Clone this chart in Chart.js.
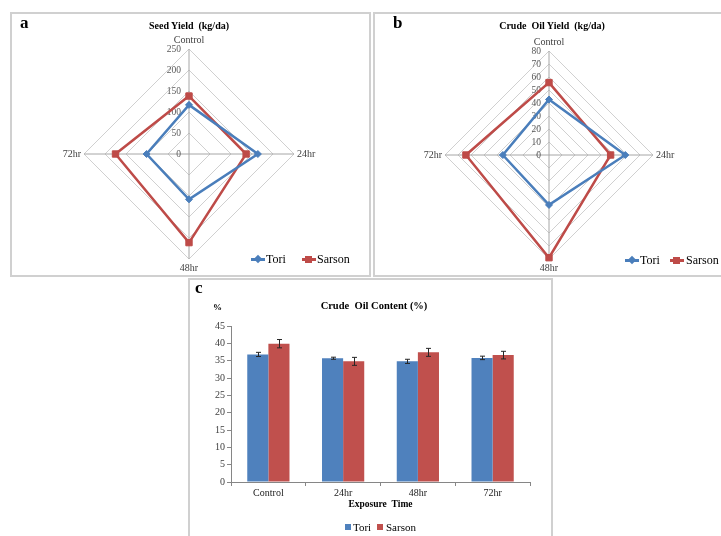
<!DOCTYPE html>
<html>
<head>
<meta charset="utf-8">
<title>Seed yield, crude oil yield and crude oil content</title>
<script src="https://cdn.jsdelivr.net/npm/chart.js@4.4.1/dist/chart.umd.min.js"></script>
<style>
    html, body { margin: 0; padding: 0; background: #fff; }
    body { position: relative; width: 721px; height: 536px; overflow: hidden; font-family: 'Liberation Serif', 'Times New Roman', serif; }
    .panel { position: absolute; border: 2px solid #d0d0d0; box-sizing: border-box; }
    canvas { position: absolute; }
    .txt { position: absolute; white-space: pre; color: #000; line-height: 12px; }
    .letter { position: absolute; font-weight: bold; font-size: 17px; line-height: 16px; }
    .title { font-weight: bold; font-size: 10px; transform: translateX(-50%); }
    .leg { position: absolute; height: 12px; line-height: 12px; font-size: 12px; color: #000; }
    .leg .line { position: absolute; top: 5px; height: 2.5px; width: 14px; }
    .leg .mark { position: absolute; }
    .leg span { position: absolute; top: 0; }
</style>
</head>
<body>
<div class="panel" style="left:10px; top:12px; width:361px; height:265px;"></div>
<div class="panel" style="left:373px; top:12px; width:352px; height:265px;"></div>
<div class="panel" style="left:188px; top:278px; width:365px; height:270px;"></div>

<canvas id="seedChart" width="360" height="264" style="left:10px; top:12px;"></canvas>
<canvas id="oilYieldChart" width="348" height="264" style="left:373px; top:12px;"></canvas>
<canvas id="oilContentChart" width="363" height="257" style="left:189px; top:279px;"></canvas>

<div class="letter" style="left:20px; top:15px;">a</div>
<div class="letter" style="left:393px; top:15px;">b</div>
<div class="letter" style="left:195px; top:280px;">c</div>

<div class="txt title" style="left:189px; top:20px;">Seed Yield  (kg/da)</div>
<div class="txt title" style="left:552px; top:20px;">Crude  Oil Yield  (kg/da)</div>
<div class="txt title" style="left:374px; top:300px; font-size:10.5px;">Crude  Oil Content (%)</div>
<div class="txt" style="left:213px; top:301px; font-size:9px; font-weight:bold;">%</div>

<!-- radar legends -->
<div class="leg" style="left:251px; top:253px;">
    <div class="line" style="left:0; background:#4a7ebb;"></div>
    <div class="mark" style="left:4px; top:3px; width:6px; height:6px; background:#4a7ebb; transform:rotate(45deg);"></div>
    <span style="left:15px;">Tori</span>
    <div class="line" style="left:51px; background:#be4b48;"></div>
    <div class="mark" style="left:54px; top:2.5px; width:7px; height:7px; background:#be4b48;"></div>
    <span style="left:66px;">Sarson</span>
</div>
<div class="leg" style="left:625px; top:254px;">
    <div class="line" style="left:0; background:#4a7ebb;"></div>
    <div class="mark" style="left:4px; top:3px; width:6px; height:6px; background:#4a7ebb; transform:rotate(45deg);"></div>
    <span style="left:15px;">Tori</span>
    <div class="line" style="left:45px; background:#be4b48;"></div>
    <div class="mark" style="left:48px; top:2.5px; width:7px; height:7px; background:#be4b48;"></div>
    <span style="left:61px;">Sarson</span>
</div>
<!-- bar legend -->
<div class="leg" style="left:345px; top:521px; font-size:11px;">
    <div class="mark" style="left:0; top:3px; width:6px; height:6px; background:#4f81bd;"></div>
    <span style="left:8px;">Tori</span>
    <div class="mark" style="left:32px; top:3px; width:6px; height:6px; background:#c0504d;"></div>
    <span style="left:41px;">Sarson</span>
</div>

<script>
// categories shared by all three panels
const timeLabels = ['Control', '24hr', '48hr', '72hr'];

// a - seed yield (kg/da)
const seedTori = [117, 164, 108, 101];
const seedSarson = [138, 136, 211, 175];
const seedTicks = [0, 50, 100, 150, 200, 250];

// b - crude oil yield (kg/da)
const oilYieldTori = [42.7, 58.7, 38.4, 35.5];
const oilYieldSarson = [55.7, 47.4, 79, 63.9];
const oilYieldTicks = [0, 10, 20, 30, 40, 50, 60, 70, 80];

// c - crude oil content (%) with error bars
const contentTori = [36.8, 35.7, 34.8, 35.8];
const contentSarson = [39.9, 34.8, 37.4, 36.6];
const contentToriErr = [0.6, 0.3, 0.6, 0.5];
const contentSarsonErr = [1.2, 1.15, 1.15, 1.1];
const contentTicks = [0, 5, 10, 15, 20, 25, 30, 35, 40, 45];

const serif = "'Liberation Serif', 'Times New Roman', serif";
const toriLine = '#4a7ebb';
const sarsonLine = '#be4b48';

// radial tick labels sit left of the vertical axis, under the lines
function radarTickPlugin(ticks) {
    return {
        id: 'radarTicks',
        beforeDatasetsDraw(chart) {
            const r = chart.scales.r;
            const ctx = chart.ctx;
            ctx.save();
            ctx.font = '9.5px ' + serif;
            ctx.fillStyle = '#595959';
            ctx.textAlign = 'right';
            ctx.textBaseline = 'middle';
            ticks.forEach(v => {
                ctx.fillText(String(v), r.xCenter - 8, r.yCenter - r.getDistanceFromCenterForValue(v));
            });
            ctx.restore();
        }
    };
}

function radarConfig(tori, sarson, ticks, pad) {
    return {
        type: 'radar',
        data: {
            labels: timeLabels,
            datasets: [
                {
                    label: 'Tori', data: tori,
                    borderColor: toriLine, backgroundColor: toriLine,
                    pointBackgroundColor: toriLine, pointBorderColor: toriLine,
                    pointStyle: 'rectRot', pointRadius: 3.5, pointBorderWidth: 1, borderWidth: 2.5, fill: false
                },
                {
                    label: 'Sarson', data: sarson,
                    borderColor: sarsonLine, backgroundColor: sarsonLine,
                    pointBackgroundColor: sarsonLine, pointBorderColor: sarsonLine,
                    pointStyle: 'rect', pointRadius: 4.5, pointBorderWidth: 1, borderWidth: 2.5, fill: false
                }
            ]
        },
        options: {
            responsive: false,
            animation: false,
            layout: { padding: pad },
            plugins: { legend: { display: false }, title: { display: false }, tooltip: { enabled: false } },
            scales: {
                r: {
                    min: ticks[0],
                    max: ticks[ticks.length - 1],
                    afterBuildTicks: s => { s.ticks = ticks.map(v => ({ value: v })); },
                    ticks: { display: false },
                    grid: { color: '#d0d0d0', lineWidth: 1 },
                    angleLines: { color: '#a6a6a6', lineWidth: 1 },
                    pointLabels: { font: { family: serif, size: 10 }, color: '#404040', padding: 3 }
                }
            }
        },
        plugins: [radarTickPlugin(ticks)]
    };
}

new Chart(document.getElementById('seedChart'),
    radarConfig(seedTori, seedSarson, seedTicks, { left: 29, right: 31, top: 22, bottom: 2 }));
new Chart(document.getElementById('oilYieldChart'),
    radarConfig(oilYieldTori, oilYieldSarson, oilYieldTicks, { left: 31, right: 27, top: 24, bottom: 2 }));

// error bars for panel c
const contentErrors = [contentToriErr, contentSarsonErr];
const errorBars = {
    id: 'errorBars',
    afterDatasetsDraw(chart) {
        const y = chart.scales.y;
        const ctx = chart.ctx;
        ctx.save();
        ctx.strokeStyle = '#262626';
        ctx.lineWidth = 1;
        chart.data.datasets.forEach((ds, i) => {
            chart.getDatasetMeta(i).data.forEach((bar, j) => {
                const hi = y.getPixelForValue(ds.data[j] + contentErrors[i][j]);
                const lo = y.getPixelForValue(ds.data[j] - contentErrors[i][j]);
                const x = Math.round(bar.x) + 0.5;
                ctx.beginPath();
                ctx.moveTo(x, hi); ctx.lineTo(x, lo);
                ctx.moveTo(x - 2.5, hi); ctx.lineTo(x + 2.5, hi);
                ctx.moveTo(x - 2.5, lo); ctx.lineTo(x + 2.5, lo);
                ctx.stroke();
            });
        });
        ctx.restore();
    }
};

new Chart(document.getElementById('oilContentChart'), {
    type: 'bar',
    data: {
        labels: timeLabels,
        datasets: [
            { label: 'Tori', data: contentTori, backgroundColor: '#4f81bd' },
            { label: 'Sarson', data: contentSarson, backgroundColor: '#c0504d' }
        ]
    },
    options: {
        responsive: false,
        animation: false,
        layout: { padding: { left: 0, top: 47, right: 22, bottom: 24 } },
        datasets: { bar: { categoryPercentage: 0.565, barPercentage: 1 } },
        plugins: { legend: { display: false }, title: { display: false }, tooltip: { enabled: false } },
        scales: {
            x: {
                grid: { display: true, drawOnChartArea: false, drawTicks: true, tickLength: 4, color: '#868686', offset: true },
                border: { color: '#868686' },
                ticks: { padding: 1, color: '#1a1a1a', font: { family: serif, size: 10 } },
                title: {
                    display: true, text: 'Exposure  Time', color: '#000',
                    font: { family: serif, size: 9.5, weight: 'bold' }, padding: { top: 0, bottom: 2 }
                },
                afterFit: s => { s.height = 30; }
            },
            y: {
                min: contentTicks[0],
                max: contentTicks[contentTicks.length - 1],
                afterBuildTicks: s => { s.ticks = contentTicks.map(v => ({ value: v })); },
                grid: { display: true, drawOnChartArea: false, drawTicks: true, tickLength: 4, color: '#868686' },
                border: { color: '#868686' },
                ticks: { padding: 2, color: '#404040', font: { family: serif, size: 10 } },
                afterFit: s => { s.width = 42; }
            }
        }
    },
    plugins: [errorBars]
});
</script>
</body>
</html>
